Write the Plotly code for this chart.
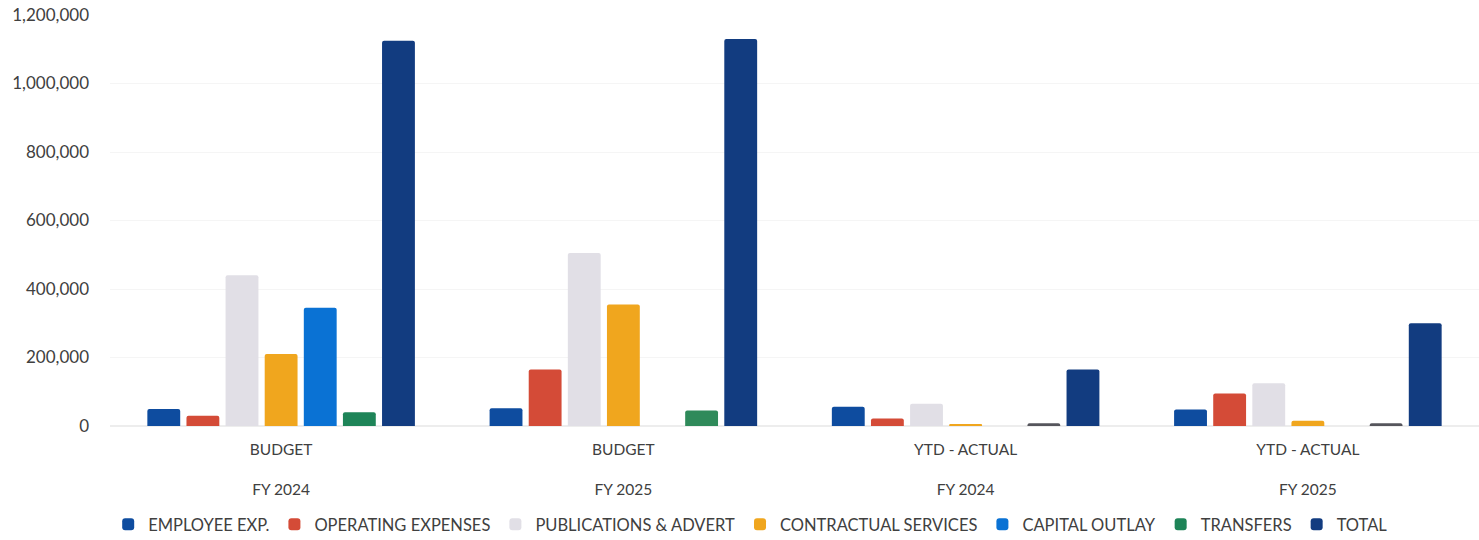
import plotly.graph_objects as go

# Category groups (two-line labels on the x axis)
groups = [
    "BUDGET<br><br>FY 2024",
    "BUDGET<br><br>FY 2025",
    "YTD - ACTUAL<br><br>FY 2024",
    "YTD - ACTUAL<br><br>FY 2025",
]

employee_exp = [50000, 52000, 56000, 48000]
operating_expenses = [30000, 165000, 22000, 95000]
publications_advert = [440000, 505000, 65000, 125000]
contractual_services = [210000, 355000, 3000, 15000]
capital_outlay = [345000, 0, 0, 0]
transfers = [40000, 45000, 8000, 8000]
total = [1125000, 1130000, 165000, 300000]

y_ticks = [0, 200000, 400000, 600000, 800000, 1000000, 1200000]

series = [
    ("EMPLOYEE EXP.", employee_exp, "#0E4C9F"),
    ("OPERATING EXPENSES", operating_expenses, "#D44B37"),
    ("PUBLICATIONS & ADVERT", publications_advert, "#E1DFE6"),
    ("CONTRACTUAL SERVICES", contractual_services, "#F0A61E"),
    ("CAPITAL OUTLAY", capital_outlay, "#0A72D4"),
    ("TRANSFERS", transfers, ["#1E8458", "#2F8A5A", "#55555C", "#55555C"]),
    ("TOTAL", total, "#123C80"),
]

fig = go.Figure()
for name, vals, color in series:
    fig.add_trace(go.Bar(
        name=name,
        x=groups,
        y=vals,
        marker=dict(color=color, line=dict(width=0)),
    ))

fig.update_layout(
    width=1479,
    height=540,
    barmode="group",
    bargap=0.2,
    bargroupgap=0.16,
    barcornerradius=2,
    plot_bgcolor="white",
    paper_bgcolor="white",
    margin=dict(l=110, r=0, t=15, b=114, autoexpand=False),
    font=dict(family="Lato, Open Sans, sans-serif", size=15, color="#404040"),
    legend=dict(
        orientation="h",
        x=0.468,
        xanchor="center",
        y=-0.24,
        yanchor="middle",
        font=dict(size=16.5, color="#404040"),
        itemwidth=30,
        tracegroupgap=0,
    ),
    xaxis=dict(
        showgrid=False,
        showline=False,
        ticks="",
        automargin=False,
        ticklabelstandoff=12,
        tickfont=dict(size=15.5, color="#404040"),
    ),
    yaxis=dict(
        range=[0, 1200000],
        tickvals=y_ticks,
        tickformat=",",
        showgrid=True,
        gridcolor="#F5F5F5",
        zeroline=True,
        zerolinecolor="#EDEDED",
        ticks="",
        automargin=False,
        ticklabelstandoff=20,
        tickfont=dict(size=17, color="#404040"),
    ),
)

fig.write_html("out.html")
